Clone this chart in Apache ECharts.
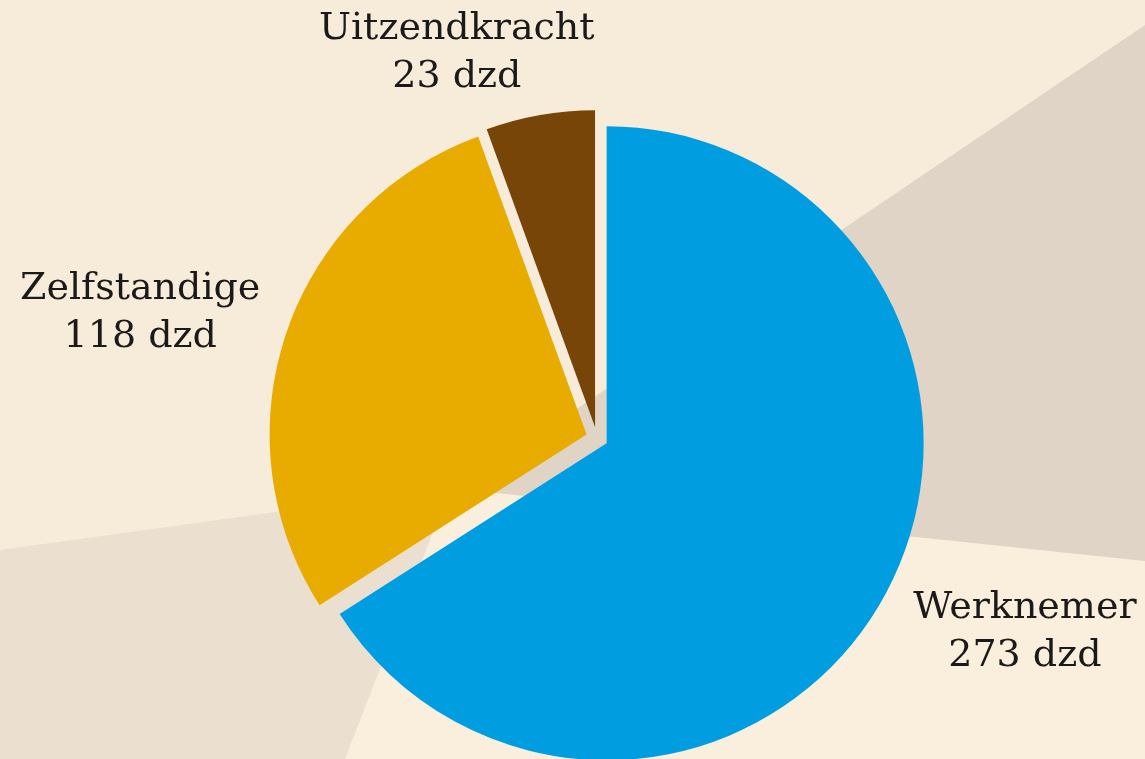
<!DOCTYPE html>
<html>
<head>
<meta charset="utf-8">
<script src="https://cdn.jsdelivr.net/npm/echarts@6/dist/echarts.min.js"></script>
<style>
html,body{margin:0;padding:0;background:#f7ecd9;}
#chart{width:1145px;height:759px;}
</style>
</head>
<body>
<div id="chart"></div>
<script>
const categories = ['Werknemer', 'Zelfstandige', 'Uitzendkracht'];
const values = [273, 118, 23];
const unit = 'dzd';
const colors = ['#009ee0', '#e8ac00', '#774508'];
// label nudges (style only)
const labelShift = [[-4, 27], [8, -13], [73, -42]];

const chart = echarts.init(document.getElementById('chart'), null, {renderer: 'canvas'});

const option = {
  backgroundColor: '#f7ecd9',
  animation: false,
  graphic: [
    { type: 'polygon', z: -10, silent: true,
      shape: { points: [[1145, 25], [1145, 561], [458, 489]] },
      style: { fill: '#dfd4c5' } },
    { type: 'polygon', z: -10, silent: true,
      shape: { points: [[0, 550], [450, 488], [345, 759], [0, 759]] },
      style: { fill: '#ebdfcf' } },
    { type: 'polygon', z: -11, silent: true,
      shape: { points: [[450, 488], [1145, 561], [1145, 759], [345, 759]] },
      style: { fill: '#faefdc' } }
  ],
  series: [{
    type: 'pie',
    center: [597, 438],
    radius: 317,
    startAngle: 90,
    clockwise: true,
    selectedMode: 'multiple',
    selectedOffset: 11,
    avoidLabelOverlap: false,
    itemStyle: { borderWidth: 0 },
    emphasis: { disabled: true },
    label: {
      show: true,
      position: 'outside',
      formatter: function (p) { return '{a|' + p.name + '}\n{a|' + p.value + ' ' + unit + '}'; },
      rich: { a: { fontFamily: 'DejaVu Serif', fontSize: 38, lineHeight: 48, color: '#1a1a1a', align: 'center' } }
    },
    labelLine: { show: false, length: 20, length2: 10 },
    labelLayout: function (p) {
      const s = labelShift[p.dataIndex];
      return { dx: s[0], dy: s[1] };
    },
    data: categories.map((c, i) => ({
      name: c, value: values[i], selected: true,
      itemStyle: { color: colors[i] },
      select: { itemStyle: { color: colors[i] } }
    }))
  }]
};
chart.setOption(option);
</script>
</body>
</html>
